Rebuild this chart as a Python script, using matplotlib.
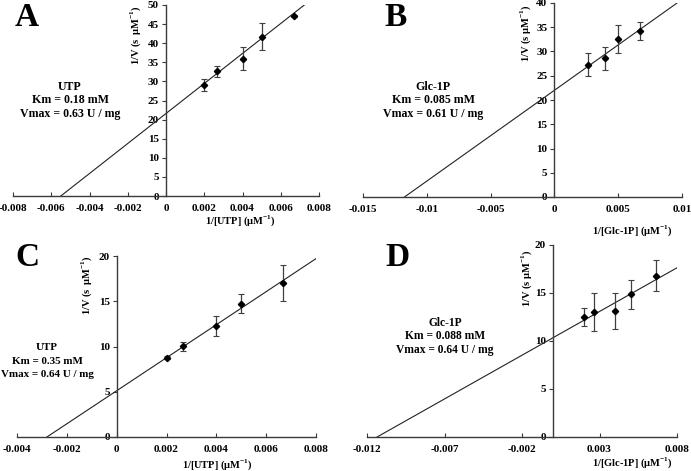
import matplotlib
matplotlib.use("Agg")
import matplotlib.pyplot as plt
import numpy as np

plt.rcParams['font.family'] = ['Liberation Serif', 'DejaVu Serif']
plt.rcParams['font.weight'] = 'bold'
plt.rcParams['axes.unicode_minus'] = False
plt.rcParams['mathtext.fontset'] = 'custom'
plt.rcParams['mathtext.rm'] = 'Liberation Serif'
plt.rcParams['mathtext.bf'] = 'Liberation Serif:bold'

# ---- data ----
a_x = [0.002, 0.00267, 0.004, 0.005, 0.00667]
a_y = [29.1, 32.6, 35.9, 41.7, 47.2]
a_err = [1.6, 1.45, 3.0, 3.5, 0.3]
a_fit = (21.6, -0.0055, 0.0074)   # intercept, x-intercept, x end

b_x = [0.00267, 0.004, 0.005, 0.00667]
b_y = [27.3, 28.6, 32.6, 34.2]
b_err = [2.4, 2.4, 2.9, 1.85]
b_fit = (22.0, -0.01175, 0.0096)

c_x = [0.002, 0.00267, 0.004, 0.005, 0.00667]
c_y = [8.77, 10.05, 12.3, 14.75, 17.0]
c_err = [0.2, 0.5, 1.1, 1.1, 1.96]
c_fit = (5.11, -0.0028, 0.008)

d_x = [0.002, 0.00267, 0.004, 0.005, 0.00667]
d_y = [12.5, 13.0, 13.15, 14.85, 16.8]
d_err = [0.92, 1.95, 1.85, 1.48, 1.6]
d_fit = (10.34, -0.01135, 0.008)

a_xticks = [-0.008, -0.006, -0.004, -0.002, 0, 0.002, 0.004, 0.006, 0.008]
a_xlabels = ['-0.008', '-0.006', '-0.004', '-0.002', '0', '0.002', '0.004', '0.006', '0.008']
b_xticks = [-0.015, -0.01, -0.005, 0, 0.005, 0.01]
b_xlabels = ['-0.015', '-0.01', '-0.005', '0', '0.005', '0.01']
c_xticks = [-0.004, -0.002, 0, 0.002, 0.004, 0.006, 0.008]
c_xlabels = ['-0.004', '-0.002', '0', '0.002', '0.004', '0.006', '0.008']
d_xticks = [-0.012, -0.007, -0.002, 0.003, 0.008]
d_xlabels = ['-0.012', '-0.007', '-0.002', '0.003', '0.008']

a_yticks = list(range(0, 51, 5))
b_yticks = list(range(0, 41, 5))
c_yticks = list(range(0, 21, 5))
d_yticks = list(range(0, 21, 5))

SUP = r'$^{\mathbf{-1}}$'

W, H = 691, 471
fig = plt.figure(figsize=(W / 100, H / 100), dpi=100)

def frac(x0, x1, y_top, y_bot):
    return [x0 / W, 1 - y_bot / H, (x1 - x0) / W, (y_bot - y_top) / H]

panels = [
    dict(rect=frac(13, 319, 5, 196), x=a_x, y=a_y, e=a_err, fit=a_fit,
         xt=a_xticks, xl=a_xlabels, yt=a_yticks, letter='A', lpos=(27, 17),
         xlab='1/[UTP] (μM' + SUP + ')', xlpos=(240, 221), ylab='1/V (s  μM' + SUP + ')', ylpos=(136, 35),
         ann=['UTP', 'Km = 0.18 mM', 'Vmax = 0.63 U / mg'], apos=(70, 87), afs=8.6),
    dict(rect=frac(363, 682, 3, 197), x=b_x, y=b_y, e=b_err, fit=b_fit,
         xt=b_xticks, xl=b_xlabels, yt=b_yticks, letter='B', lpos=(396, 17),
         xlab='1/[Glc-1P] (μM' + SUP + ')', xlpos=(632, 231), ylab='1/V (s μM' + SUP + ')', ylpos=(526, 33),
         ann=['Glc-1P', 'Km = 0.085 mM', 'Vmax = 0.61 U / mg'], apos=(433, 87), afs=8.6),
    dict(rect=frac(17, 316, 256, 437), x=c_x, y=c_y, e=c_err, fit=c_fit,
         xt=c_xticks, xl=c_xlabels, yt=c_yticks, letter='C', lpos=(27, 258),
         xlab='1/[UTP] (μM' + SUP + ')', xlpos=(217, 465), ylab='1/V (s  μM' + SUP + ')', ylpos=(87, 285),
         ann=['UTP', 'Km = 0.35 mM', 'Vmax = 0.64 U / mg'], apos=(47, 348), afs=7.9),
    dict(rect=frac(367, 677, 245, 437), x=d_x, y=d_y, e=d_err, fit=d_fit,
         xt=d_xticks, xl=d_xlabels, yt=d_yticks, letter='D', lpos=(398, 257),
         xlab='1/[Glc-1P] (μM' + SUP + ')', xlpos=(632, 463), ylab='1/V (s μM' + SUP + ')', ylpos=(527, 278),
         ann=['Glc-1P', 'Km = 0.088 mM', 'Vmax = 0.64 U / mg'], apos=(445, 323), afs=8.3),
]

spine_col = '#3a3a3a'
for p in panels:
    ax = fig.add_axes(p['rect'])
    ax.patch.set_alpha(0)
    ax.set_xlim(p['xt'][0], p['xt'][-1])
    ax.set_ylim(p['yt'][0], p['yt'][-1])
    for s in ['top', 'right']:
        ax.spines[s].set_visible(False)
    ax.spines['left'].set_position(('data', 0))
    ax.spines['bottom'].set_position(('data', 0))
    for s in ['left', 'bottom']:
        ax.spines[s].set_color(spine_col)
        ax.spines[s].set_linewidth(1.0)
    ax.set_xticks(p['xt'])
    ax.set_xticklabels(p['xl'])
    ax.set_yticks(p['yt'])
    ax.set_yticklabels([str(v) for v in p['yt']])
    ax.tick_params(axis='x', direction='in', length=3, width=0.8, color=spine_col,
                   labelsize=8, pad=6)
    ax.tick_params(axis='y', direction='out', length=3, width=0.8, color=spine_col,
                   labelsize=8, pad=2)
    for lab in ax.get_xticklabels() + ax.get_yticklabels():
        lab.set_fontweight('bold')
    y0, x0, x1 = p['fit']
    slope = -y0 / x0
    fx = np.array([x0, x1])
    ax.plot(fx, y0 + slope * fx, color='#222222', lw=0.8, clip_on=True)
    ax.errorbar(p['x'], p['y'], yerr=p['e'], fmt='D', ms=3.2, color='black',
                ecolor='#404040', elinewidth=0.9, capsize=2, capthick=0.8, zorder=3)
    fig.text(p['lpos'][0] / W, 1 - p['lpos'][1] / H, p['letter'], fontsize=24,
             fontweight='bold', ha='center', va='center')
    fig.text(p['xlpos'][0] / W, 1 - p['xlpos'][1] / H, p['xlab'], fontsize=7.5,
             fontweight='bold', ha='center', va='center')
    fig.text(p['ylpos'][0] / W, 1 - p['ylpos'][1] / H, p['ylab'], fontsize=7.5,
             fontweight='bold', ha='center', va='center', rotation=90)
    for i, line in enumerate(p['ann']):
        fig.text(p['apos'][0] / W, 1 - (p['apos'][1] + i * 13.4) / H, line,
                 fontsize=p['afs'], fontweight='bold', ha='center', va='center')

fig.savefig('out.png', dpi=100)
